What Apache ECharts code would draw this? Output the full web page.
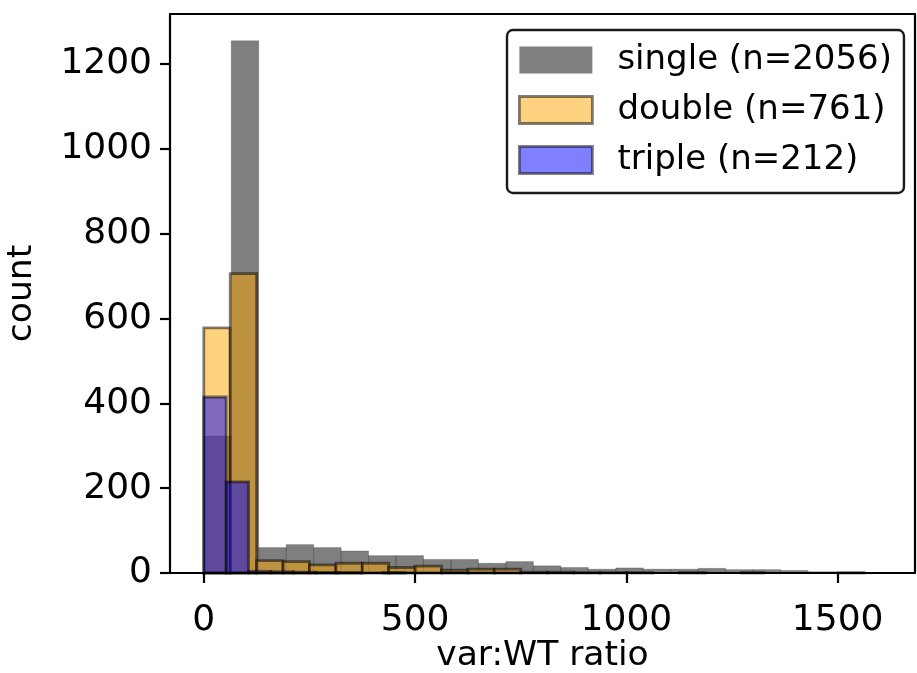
<!DOCTYPE html>
<html>
<head>
<meta charset="utf-8">
<script src="https://cdn.jsdelivr.net/npm/echarts@6/dist/echarts.min.js"></script>
<style>
  html, body { margin: 0; padding: 0; background: #fff; }
  #chart { width: 917px; height: 673px; }
</style>
</head>
<body>
<div id="chart"></div>
<script>
// ---- data ----
const seriesNames = ['single (n=2056)', 'double (n=761)', 'triple (n=212)'];
// histogram bins: start value and bin width for each series
const singleBinStart = 0,  singleBinWidth = 65;
const doubleBinStart = 0,  doubleBinWidth = 62.5;
const tripleBinStart = 0,  tripleBinWidth = 53;
const singleCounts = [323, 1255, 60, 67, 60, 52, 41, 41, 32, 32, 23, 27, 17, 13, 9, 12, 9, 9, 11, 8, 8, 6, 3, 1, 1];
const doubleCounts = [578, 706, 29, 27, 19, 23, 23, 13, 16, 7, 9, 9, 2, 2, 1, 1, 1, 0, 1, 0, 0, 0, 0, 0, 1];
const tripleCounts = [415, 215, 4, 3, 2, 1, 1, 0, 1, 0, 0, 0, 0, 0, 0, 0, 0, 0, 0, 0, 0, 0, 0, 0, 1];
const xTicks = [0, 500, 1000, 1500];
const yTicks = [0, 200, 400, 600, 800, 1000, 1200];
const xLabel = 'var:WT ratio';
const yLabel = 'count';

// ---- build ----
function bins(start, width, counts) {
  return counts.map((c, i) => [start + i * width, start + (i + 1) * width, c]);
}
const FONT = 'DejaVu Sans';
const FS_TICK = 36;
const FS_NAME = 34.5;
const FS_LEG = 34;

function makeRender(fill, stroke, lw) {
  return function (params, api) {
    const c = api.value(2);
    if (!c) return null;
    const p0 = api.coord([api.value(0), c]);
    const p1 = api.coord([api.value(1), 0]);
    return {
      type: 'rect',
      shape: { x: p0[0], y: p0[1], width: p1[0] - p0[0], height: p1[1] - p0[1] },
      style: { fill: fill, stroke: stroke, lineWidth: lw }
    };
  };
}

const GRAY = 'rgba(0,0,0,0.5)';
const ORANGE = 'rgba(255,165,0,0.5)';
const BLUE = 'rgba(0,0,255,0.5)';
const EDGE = 'rgba(0,0,0,0.5)';
const plain = v => String(v);

const chart = echarts.init(document.getElementById('chart'), null, { renderer: 'canvas' });
const axisLineStyle = { color: '#000', width: 2.2 };
chart.setOption({
  animation: false,
  backgroundColor: '#fff',
  grid: { left: 170, right: 2, top: 14, bottom: 100, containLabel: false, outerBoundsMode: 'none' },
  xAxis: [{
    type: 'value', min: -80, max: 1683, position: 'bottom', z: 10,
    splitLine: { show: false },
    axisLine: { show: true, onZero: false, lineStyle: axisLineStyle },
    axisTick: { show: true, length: 10, lineStyle: axisLineStyle, customValues: xTicks },
    axisLabel: { customValues: xTicks, formatter: plain, fontSize: FS_TICK, fontFamily: FONT, color: '#000', margin: 30 },
    name: xLabel, nameLocation: 'middle', nameGap: 66, nameMoveOverlap: false,
    nameTextStyle: { fontSize: FS_NAME, fontFamily: FONT, color: '#000' }
  }, {
    type: 'value', min: -80, max: 1683, position: 'top', z: 10,
    splitLine: { show: false },
    axisLine: { show: true, onZero: false, lineStyle: axisLineStyle },
    axisTick: { show: false }, axisLabel: { show: false }
  }],
  yAxis: [{
    type: 'value', min: 0, max: 1318, position: 'left', z: 10,
    splitLine: { show: false },
    axisLine: { show: true, onZero: false, lineStyle: axisLineStyle },
    axisTick: { show: true, length: 10, lineStyle: axisLineStyle, customValues: yTicks },
    axisLabel: { customValues: yTicks, formatter: plain, fontSize: FS_TICK, fontFamily: FONT, color: '#000', margin: 18 },
    name: yLabel, nameLocation: 'middle', nameGap: 130, nameMoveOverlap: false,
    nameTextStyle: { fontSize: FS_NAME, fontFamily: FONT, color: '#000' }
  }, {
    type: 'value', min: 0, max: 1318, position: 'right', z: 10,
    splitLine: { show: false },
    axisLine: { show: true, onZero: false, lineStyle: axisLineStyle },
    axisTick: { show: false }, axisLabel: { show: false }
  }],
  legend: {
    left: 507, top: 30, orient: 'vertical', z: 20,
    backgroundColor: 'rgba(255,255,255,0.8)',
    borderColor: '#1a1a1a', borderWidth: 2.4, borderRadius: 6,
    padding: [10, 12, 13, 11],
    itemWidth: 73, itemHeight: 27, itemGap: 10, icon: 'rect',
    textStyle: { fontSize: FS_LEG, fontFamily: FONT, color: '#000', lineHeight: 40, padding: [0, 0, 0, 20] },
    data: [
      { name: seriesNames[0], itemStyle: { color: GRAY, borderWidth: 0 } },
      { name: seriesNames[1], itemStyle: { color: ORANGE, borderColor: EDGE, borderWidth: 2.8 } },
      { name: seriesNames[2], itemStyle: { color: BLUE, borderColor: EDGE, borderWidth: 2.8 } }
    ]
  },
  series: [{
    type: 'custom', name: seriesNames[0], xAxisIndex: 0, yAxisIndex: 0, z: 2,
    itemStyle: { color: GRAY },
    renderItem: makeRender(GRAY, 'rgba(0,0,0,0.18)', 1),
    encode: { x: [0, 1], y: 2 },
    data: bins(singleBinStart, singleBinWidth, singleCounts)
  }, {
    type: 'custom', name: seriesNames[1], xAxisIndex: 0, yAxisIndex: 0, z: 3,
    itemStyle: { color: ORANGE },
    renderItem: makeRender(ORANGE, EDGE, 2.8),
    encode: { x: [0, 1], y: 2 },
    data: bins(doubleBinStart, doubleBinWidth, doubleCounts)
  }, {
    type: 'custom', name: seriesNames[2], xAxisIndex: 0, yAxisIndex: 0, z: 4,
    itemStyle: { color: BLUE },
    renderItem: makeRender(BLUE, EDGE, 2.8),
    encode: { x: [0, 1], y: 2 },
    data: bins(tripleBinStart, tripleBinWidth, tripleCounts)
  }]
});
</script>
</body>
</html>
